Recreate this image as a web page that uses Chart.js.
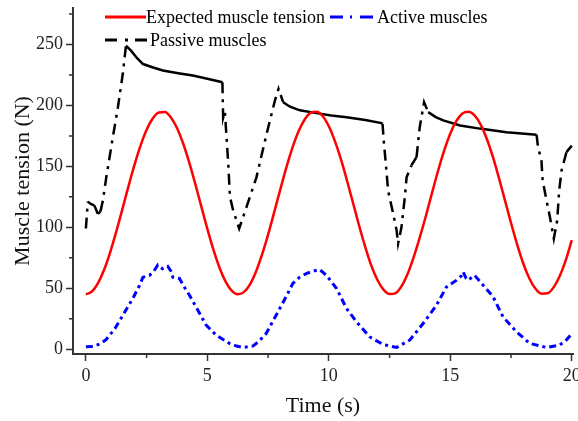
<!DOCTYPE html>
<html>
<head>
<meta charset="utf-8">
<script src="https://cdn.jsdelivr.net/npm/chart.js@4/dist/chart.umd.min.js"></script>
<style>
  html, body { margin: 0; padding: 0; background: #fff; }
</style>
</head>
<body>
<canvas id="tension-chart" width="578" height="421"></canvas>
<script>
// expected tension, sampled every 0.25 s
const expectedTime = [0, 0.25, 0.5, 0.75, 1, 1.25, 1.5, 1.75, 2, 2.25, 2.5, 2.75, 3, 3.25, 3.5, 3.75,
  4, 4.25, 4.5, 4.75, 5, 5.25, 5.5, 5.75, 6, 6.25, 6.5, 6.75, 7, 7.25, 7.5, 7.75,
  8, 8.25, 8.5, 8.75, 9, 9.25, 9.5, 9.75, 10, 10.25, 10.5, 10.75, 11, 11.25, 11.5, 11.75,
  12, 12.25, 12.5, 12.75, 13, 13.25, 13.5, 13.75, 14, 14.25, 14.5, 14.75, 15, 15.25, 15.5, 15.75,
  16, 16.25, 16.5, 16.75, 17, 17.25, 17.5, 17.75, 18, 18.25, 18.5, 18.75, 19, 19.25, 19.5, 19.75, 20];
const expectedTension = [45, 47.3, 54.2, 65.1, 79.5, 96.4, 114.7, 133.4, 151.2, 167.1, 180.1, 189.3, 194.2, 194.6, 190.2, 181.5,
  169.0, 153.5, 135.8, 117.2, 98.7, 81.6, 66.8, 55.4, 48.0, 45.0, 46.8, 53.0, 63.5, 77.5, 94.0, 112.3,
  130.9, 149.0, 165.2, 178.6, 188.3, 193.9, 194.8, 191.2, 182.9, 170.7, 155.7, 138.2, 119.7, 101.1, 83.8, 68.5,
  56.7, 48.8, 45.2, 46.0, 51.9, 62.1, 75.9, 92.1, 109.7, 128.4, 146.6, 163.1, 177.0, 187.3, 193.5, 194.9,
  191.8, 184.3, 172.7, 158.0, 140.6, 122.1, 103.5, 86.0, 70.5, 58.2, 49.7, 45.5, 45.8, 50.7, 59.9, 72.9, 89.4];

const activeTime = [0, 0.3, 0.6, 0.84, 1.2, 1.52, 1.93, 2.2, 2.35, 2.62, 2.8, 2.96, 3.15, 3.37, 3.5, 3.58,
  3.85, 4.05, 4.27, 4.61, 4.95, 5.36, 5.91, 6.2, 6.46, 6.87, 7.1, 7.42, 7.83, 8.24, 8.52, 8.8,
  9.07, 9.35, 9.62, 9.9, 10.32, 10.73, 11.14, 11.69, 12.23, 12.79, 13.33, 13.88, 14.43, 14.84,
  15.26, 15.45, 15.53, 15.65, 15.73, 16.0, 16.35, 16.76, 17.17, 17.72, 18.27, 18.96, 19.5, 19.8, 20];
const activeTension = [1.9, 2.2, 4.5, 8, 17, 27.8, 41.5, 52, 59, 60.6, 64, 69, 66, 68, 64, 59,
  58, 51, 44, 32, 19.7, 11.5, 4.7, 2.5, 1.4, 2.5, 6, 12.8, 27.8, 43, 54, 59,
  62, 64, 65.3, 60.6, 49.7, 33.3, 22.4, 10, 3.8, 1.4, 7.4, 21, 36, 51,
  56.6, 60, 63.4, 58, 56.6, 60.6, 52.5, 43, 26.5, 14.2, 4.7, 1.4, 3.3, 8, 12.8];

const passiveTime = [0, 0.08, 0.22, 0.35, 0.49, 0.6, 0.7, 0.84, 1.11, 1.32, 1.52, 1.65, 1.86, 2.1, 2.35, 2.8,
  3.17, 3.8, 4.4, 5.0, 5.62, 5.65, 5.72, 5.79, 5.86, 5.93, 6.06, 6.31, 6.61, 7.02, 7.44, 7.78,
  7.93, 8.12, 8.4, 8.81, 9.49, 10.1, 10.73, 11.5, 12.17, 12.21, 12.26, 12.37, 12.44, 12.65, 12.79, 12.85,
  12.99, 13.13, 13.2, 13.4, 13.61, 13.74, 13.92, 14.09, 14.4, 14.71, 15.4, 16.21, 17.31, 18.55,
  18.61, 18.75, 18.8, 18.96, 19.1, 19.26, 19.4, 19.48, 19.58, 19.78, 20];
const passiveTension = [99, 121, 119, 118, 111, 113, 122, 141, 174, 198.6, 226, 249, 245, 239, 234, 231,
  228.7, 226.5, 224.6, 222, 219, 190, 195, 174, 152, 125, 114, 99, 116.6, 141, 176.8, 204,
  213.7, 202.7, 199, 196, 193.7, 191.8, 190.4, 188, 185.5, 185, 171, 146.7, 130, 111, 97.5, 86.6,
  100, 125, 141, 150.8, 157.6, 182, 202.7, 194.5, 190.5, 187.7, 183.6, 181, 178, 176,
  165.8, 155, 138.5, 122, 108.4, 90.7, 105.7, 130, 146.7, 161.7, 167];

const seriesNames = ['Expected muscle tension', 'Active muscles', 'Passive muscles'];
const xTicks = [0, 5, 10, 15, 20];
const yTicks = [0, 50, 100, 150, 200, 250];

const serif = "'Liberation Serif', 'Times New Roman', serif";

function pairs(xs, ys) {
    return xs.map((x, i) => ({ x: x, y: ys[i] }));
}

// steep parts of the passive curve are dash-dot, the slow decays look solid
const passiveDash = [11, 6, 3, 6];
function passiveSegment(ctx) {
    const dx = ctx.p1.parsed.x - ctx.p0.parsed.x;
    const dy = ctx.p1.parsed.y - ctx.p0.parsed.y;
    return Math.abs(dy / dx) < 40 ? [] : passiveDash;
}

const minorTicks = {
    id: 'minorTicks',
    afterDraw(chart) {
        const c = chart.ctx;
        const xs = chart.scales.x, ys = chart.scales.y;
        c.save();
        c.strokeStyle = '#333';
        c.lineWidth = 1.5;
        c.beginPath();
        [2.5, 7.5, 12.5, 17.5].forEach(v => {
            const px = xs.getPixelForValue(v);
            c.moveTo(px, ys.bottom);
            c.lineTo(px, ys.bottom + 4);
        });
        [25, 75, 125, 175, 225, 275].forEach(v => {
            const py = ys.getPixelForValue(v);
            c.moveTo(xs.left, py);
            c.lineTo(xs.left - 4, py);
        });
        c.stroke();
        c.restore();
    }
};

const inlineLegend = {
    id: 'inlineLegend',
    afterDraw(chart) {
        const c = chart.ctx;
        const spots = [
            { x0: 105, x1: 146, y: 17, dash: [], gap: 0 },
            { x0: 330, x1: 373, y: 17, dash: [13, 7, 2, 8], gap: 4 },
            { x0: 105, x1: 147, y: 40, dash: [12, 8, 3, 7], gap: 3 }
        ];
        c.save();
        chart.data.datasets.forEach((ds, i) => {
            const s = spots[i];
            c.strokeStyle = ds.borderColor;
            c.lineWidth = 3;
            c.setLineDash(s.dash);
            c.beginPath();
            c.moveTo(s.x0, s.y);
            c.lineTo(s.x1, s.y);
            c.stroke();
            c.setLineDash([]);
            c.fillStyle = '#000';
            c.font = '18px ' + serif;
            c.textBaseline = 'middle';
            c.fillText(ds.label, s.x1 + s.gap, s.y + 1);
        });
        c.restore();
    }
};

function noEdgePadding(s) {
    s.paddingLeft = 0;
    s.paddingRight = 0;
    s.paddingTop = 0;
    s.paddingBottom = 0;
}

const ctx = document.getElementById('tension-chart').getContext('2d');
new Chart(ctx, {
    type: 'line',
    data: {
        datasets: [{
            label: seriesNames[0],
            data: pairs(expectedTime, expectedTension),
            borderColor: '#ff0000',
            borderWidth: 2.5,
            tension: 0.4,
            cubicInterpolationMode: 'monotone'
        }, {
            label: seriesNames[1],
            data: pairs(activeTime, activeTension),
            borderColor: '#0000ff',
            borderWidth: 3,
            borderDash: [7, 4, 3, 4]
        }, {
            label: seriesNames[2],
            data: pairs(passiveTime, passiveTension),
            borderColor: '#000000',
            borderWidth: 2.5,
            segment: { borderDash: passiveSegment }
        }]
    },
    options: {
        responsive: false,
        animation: false,
        layout: { padding: { top: 8, right: 5, left: 0, bottom: 0 } },
        elements: { point: { radius: 0 } },
        plugins: { legend: { display: false }, tooltip: { enabled: false } },
        scales: {
            x: {
                type: 'linear',
                min: -0.53,
                max: 20.05,
                afterFit(s) { s.height = 67; noEdgePadding(s); },
                afterBuildTicks(s) { s.ticks = xTicks.map(v => ({ value: v })); },
                ticks: { font: { family: serif, size: 18 }, color: '#222', padding: 4, maxRotation: 0 },
                grid: { drawOnChartArea: false, tickLength: 7, tickWidth: 1.5, tickColor: '#333' },
                border: { color: '#333', width: 2 },
                title: { display: true, text: 'Time (s)', color: '#111', font: { family: serif, size: 22 }, padding: { top: 0, bottom: 2 } }
            },
            y: {
                min: -4,
                max: 280,
                afterFit(s) { s.width = 73; noEdgePadding(s); },
                afterBuildTicks(s) { s.ticks = yTicks.map(v => ({ value: v })); },
                ticks: { font: { family: serif, size: 18 }, color: '#222', padding: 3 },
                grid: { drawOnChartArea: false, tickLength: 7, tickWidth: 1.5, tickColor: '#333' },
                border: { color: '#333', width: 2 },
                title: { display: true, text: 'Muscle tension (N)', color: '#111', font: { family: serif, size: 22 }, padding: { top: 10, bottom: 0 } }
            }
        }
    },
    plugins: [minorTicks, inlineLegend]
});
</script>
</body>
</html>
